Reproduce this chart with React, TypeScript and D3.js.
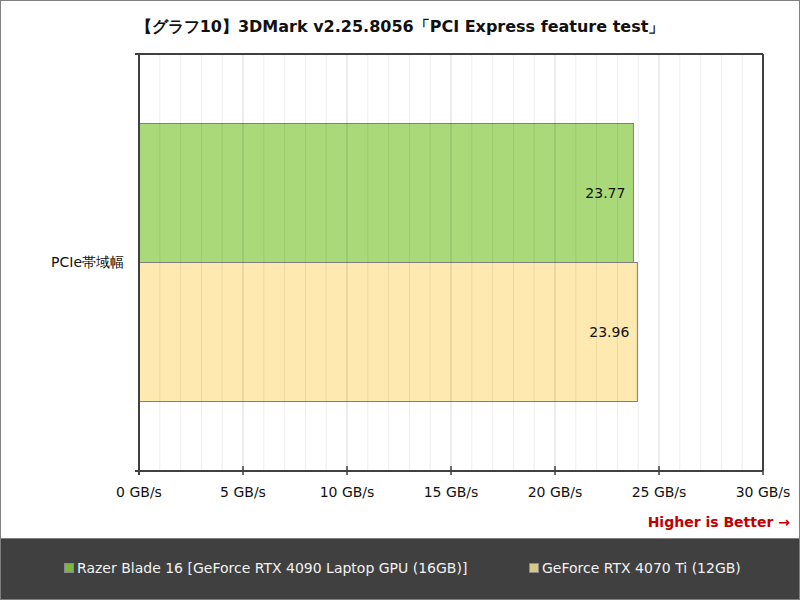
import React from "react";
import * as d3 from "d3";

const title = "【グラフ10】3DMark v2.25.8056「PCI Express feature test」";
const categories = ["PCIe帯域幅"];
const seriesNames = [
  "Razer Blade 16 [GeForce RTX 4090 Laptop GPU (16GB)]",
  "GeForce RTX 4070 Ti (12GB)",
];
const seriesValues = [[23.77], [23.96]];
const barColors = ["#a9d978", "#fee9b0"];
const swatchColors = ["#7db642", "#d8c88a"];
const majorTicks = [0, 5, 10, 15, 20, 25, 30];
const unit = " GB/s";

const W = 800;
const H = 600;
const font = "'DejaVu Sans', Verdana, sans-serif";

export default function App() {
  const margin = { top: 54, right: 37, bottom: 129, left: 139 };
  const x = d3
    .scaleLinear()
    .domain([0, 30])
    .range([margin.left, W - margin.right]);
  const y = d3
    .scaleBand<string>()
    .domain(categories)
    .range([margin.top, H - margin.bottom])
    .paddingInner(0)
    .paddingOuter(0);
  const inner = d3
    .scaleBand<number>()
    .domain(seriesNames.map((_, i) => i))
    .range([0, y.bandwidth()])
    .paddingOuter(0.5)
    .paddingInner(0);

  const minorTicks = d3.range(1, 30).filter((v) => v % 5 !== 0);
  const x0 = x(0);
  const x1 = x(30);
  const yTop = margin.top;
  const yBot = H - margin.bottom;

  return (
    <svg
      width={W}
      height={H}
      style={{ position: "fixed", left: 0, top: 0, display: "block" }}
      fontFamily={font}
    >
      <rect x={0.5} y={0.5} width={W - 1} height={H - 1} fill="#fff" stroke="#808080" />
      <text x={W / 2} y={32} textAnchor="middle" fontSize={16} fontWeight="bold" fill="#111">
        {title}
      </text>

      {/* bars */}
      {categories.map((c, ci) =>
        seriesValues.map((vals, si) => (
          <rect
            key={`${ci}-${si}`}
            x={x0}
            y={(y(c) ?? 0) + (inner(si) ?? 0)}
            width={x(vals[ci]) - x0}
            height={inner.bandwidth()}
            fill={barColors[si]}
            stroke="#808080"
            strokeWidth={1}
          />
        ))
      )}

      {/* grid on top, translucent */}
      {minorTicks.map((t) => (
        <line key={`m${t}`} x1={x(t)} x2={x(t)} y1={yTop} y2={yBot} stroke="#000" strokeOpacity={0.07} />
      ))}
      {majorTicks.slice(1, -1).map((t) => (
        <line key={`M${t}`} x1={x(t)} x2={x(t)} y1={yTop} y2={yBot} stroke="#000" strokeOpacity={0.15} />
      ))}

      {/* value labels */}
      {categories.map((c, ci) =>
        seriesValues.map((vals, si) => (
          <text
            key={`v${ci}-${si}`}
            x={x(vals[ci]) - 8}
            y={(y(c) ?? 0) + (inner(si) ?? 0) + inner.bandwidth() / 2}
            dy="0.35em"
            textAnchor="end"
            fontSize={14}
            fill="#111"
          >
            {vals[ci].toFixed(2)}
          </text>
        ))
      )}

      {/* frame & axes */}
      <line x1={x0 - 4} x2={x1} y1={yTop} y2={yTop} stroke="#404040" strokeWidth={2} />
      <line x1={x1} x2={x1} y1={yTop} y2={yBot} stroke="#404040" strokeWidth={2} />
      <line x1={x0} x2={x0} y1={yTop} y2={yBot + 4} stroke="#404040" strokeWidth={2} />
      <line x1={x0 - 4} x2={x1} y1={yBot} y2={yBot} stroke="#404040" strokeWidth={2} />
      {majorTicks.map((t) => (
        <g key={`t${t}`}>
          <line x1={x(t)} x2={x(t)} y1={t === 0 ? yBot : yBot - 5} y2={yBot + 4} stroke="#404040" strokeWidth={1.5} />
          <text x={x(t)} y={yBot + 26} textAnchor="middle" fontSize={14} fill="#111">
            {t + unit}
          </text>
        </g>
      ))}
      {categories.map((c) => (
        <text
          key={c}
          x={x0 - 15}
          y={(y(c) ?? 0) + y.bandwidth() / 2}
          dy="0.35em"
          textAnchor="end"
          fontSize={14}
          fill="#111"
        >
          {c}
        </text>
      ))}

      <text x={790} y={527} textAnchor="end" fontSize={14} fontWeight="bold" fill="#c00000">
        Higher is Better →
      </text>

      {/* legend */}
      <rect x={0.5} y={538.5} width={W - 1} height={61} fill="#404040" stroke="#808080" />
      {seriesNames.map((s, i) => {
        const lx = i === 0 ? 64 : 529;
        return (
          <g key={s}>
            <rect x={lx + 0.5} y={563.5} width={9} height={9} fill={swatchColors[i]} stroke="#8a8a8a" />
            <text x={lx + 13} y={568} dy="0.35em" fontSize={14} fill="#f2f2f2">
              {s}
            </text>
          </g>
        );
      })}
    </svg>
  );
}
